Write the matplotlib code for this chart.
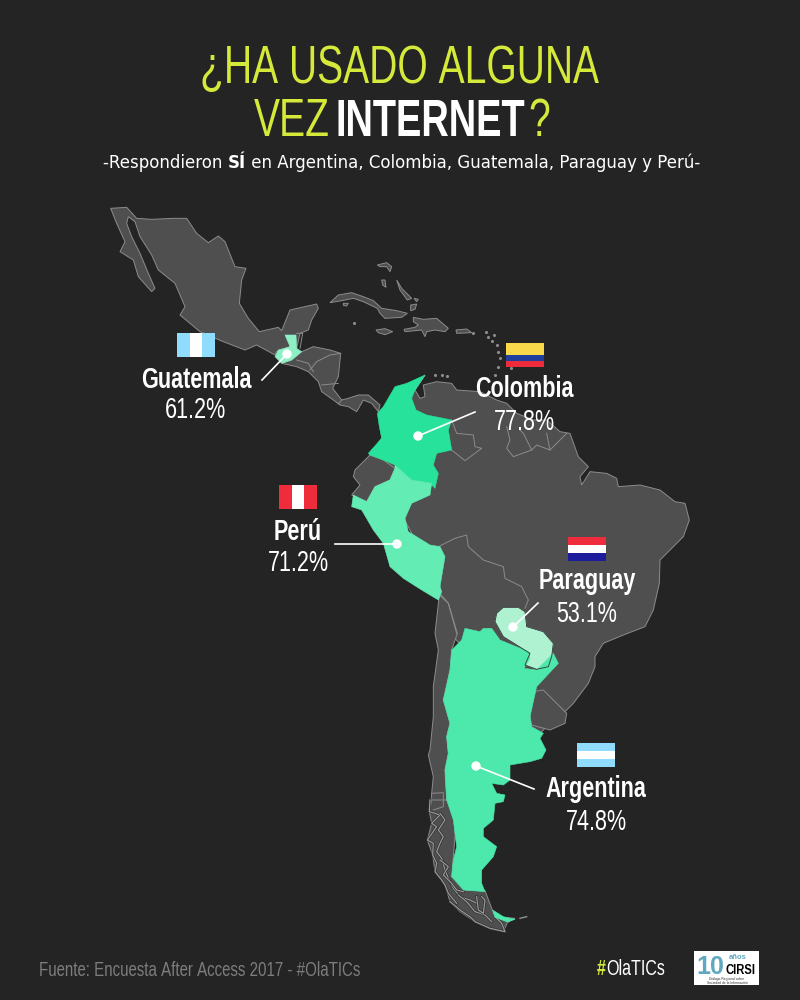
import matplotlib
matplotlib.use("Agg")
import matplotlib.pyplot as plt
from matplotlib import font_manager
from matplotlib.patches import Polygon, Circle, Rectangle

BG = "#242424"
LAND = "#4f4f4f"
EDGE = "#8c8c8c"
LIME = "#d5e93a"
WIDE = ["DejaVu Sans"]

# values
countries = ["Guatemala", "Colombia", "Perú", "Paraguay", "Argentina"]
percent = [61.2, 77.8, 71.2, 53.1, 74.8]
fills = ["#8ef0c5", "#27e29b", "#63edb5", "#aef2d1", "#4de8ab"]

# map outlines in crops: (left, top, points at 3x)
mexico = (100, 200, [(32,25),(80,22),(110,55),(155,58),(220,55),(260,55),(290,100),(325,128),(355,108),(375,125),(395,175),(405,200),(438,205),(425,240),(418,310),(445,355),(478,395),(535,382),(545,392),(570,330),(650,312),(655,325),(635,360),(625,390),(600,400),(590,445),(570,440),(530,455),(525,465),(470,435),(435,450),(370,425),(300,395),(240,345),(255,320),(225,250),(175,210),(155,165),(120,110),(105,65),(85,50),(80,70),(95,110),(120,160),(145,220),(165,265),(155,275),(115,230),(100,180),(60,155),(75,125),(50,70)])
guatemala = (100, 200, [(555,405),(588,405),(590,445),(605,455),(575,480),(545,490),(525,470),(535,450),(570,440)])
central = (100, 200, [(575,480),(605,455),(640,440),(690,450),(722,460),(715,530),(698,565),(725,600),(745,595),(775,585),(805,585),(840,615),(835,635),(815,610),(790,600),(770,635),(745,620),(720,615),(700,600),(665,575),(655,545),(625,515),(590,500),(545,490)])
cuba = (320, 280, [(30,68),(55,45),(95,38),(130,50),(160,62),(185,85),(230,92),(262,100),(245,112),(195,115),(180,100),(172,85),(130,65),(100,55),(65,62)])
isla_juventud = (320, 280, [(70,70),(85,70),(80,78),(70,76)])
jamaica = (320, 280, [(168,150),(195,146),(218,155),(195,164),(175,158)])
hispaniola = (320, 280, [(252,148),(285,142),(295,135),(280,125),(280,112),(310,118),(350,115),(385,145),(375,155),(345,150),(320,155),(315,170),(305,150),(255,155)])
puerto_rico = (320, 280, [(408,150),(440,147),(455,158),(410,160)])
bahamas1 = (320, 280, [(185,0),(195,0),(198,22),(188,15)])
bahamas2 = (320, 280, [(230,0),(245,25),(265,45),(275,55),(262,60),(240,30)])
bahamas3 = (320, 280, [(282,55),(295,58),(290,65)])
bahamas4 = (320, 280, [(272,75),(290,72),(285,88),(272,92)])
andros = (100, 200, [(832,195),(860,188),(875,200),(870,215),(860,200),(840,200)])
islets = (320, 280, [(102,128),(460,160),(497,155),(503,170),(522,165),(515,183),(530,195),(535,215),(540,235),(535,260),(572,265),(525,285),(345,285),(365,285),(380,288)])

north_sa = (340, 370, [(255,15),(225,60),(240,85),(255,80),(250,45),(290,35),(335,40),(350,60),(420,65),(470,90),(500,100),(530,130),(580,150),(620,150),(660,185),(690,190),(715,260),(745,290),(720,320),(725,345),(750,305),(800,310),(830,325),(835,350),(900,345),(960,360),(1005,395),(1035,400),(1048,450),(1030,500),(985,545),(960,570),(958,640),(940,720),(915,770),(850,795),(790,820),(765,860),(765,890),(745,940),(700,1000),(660,1040),(630,1060),(600,1090),(570,1100),(500,1060),(430,900),(340,800),(300,670),(300,650),(90,255)])
colombia = (340, 370, [(255,15),(225,60),(215,85),(228,120),(260,135),(335,150),(325,180),(335,240),(290,250),(280,285),(295,310),(285,355),(270,340),(215,330),(165,285),(130,270),(90,255),(85,250),(125,205),(118,170),(112,130),(130,110),(165,50),(200,40)])
ecuador = (340, 370, [(90,255),(45,300),(40,320),(60,345),(35,375),(80,395),(105,350),(150,330),(165,295),(130,270)])
peru = (340, 370, [(165,285),(215,330),(275,340),(270,375),(215,400),(195,445),(205,485),(270,525),(300,530),(315,560),(300,650),(305,665),(295,690),(245,660),(190,625),(150,590),(130,520),(100,480),(65,420),(35,410),(40,375),(80,395),(105,350),(150,330),(165,295)])
paraguay = (340, 370, [(465,755),(470,730),(490,712),(535,712),(555,725),(560,770),(610,785),(640,820),(635,860),(625,890),(590,898),(555,885),(570,850),(530,825),(490,800)])
chile = (400, 620, [(118,-75),(145,-50),(172,40),(155,90),(150,150),(130,240),(150,310),(140,350),(145,400),(135,450),(140,540),(165,600),(100,600),(90,580),(95,520),(100,470),(85,405),(90,390),(100,290),(100,200),(115,90),(105,40)])
chile_south = (420, 800, [(35,0),(90,0),(105,60),(105,110),(95,230),(125,235),(135,270),(195,272),(215,325),(225,350),(285,355),(262,368),(250,395),(210,385),(165,365),(120,335),(90,305),(75,255),(45,215),(38,165),(22,120),(35,70),(28,35)])
argentina = (400, 620, [(195,25),(240,35),(250,25),(275,25),(300,60),(385,95),(390,115),(372,145),(410,150),(460,100),(475,130),(410,200),(390,290),(395,320),(430,340),(420,355),(438,390),(425,415),(390,425),(330,435),(330,480),(310,495),(275,490),(290,520),(315,525),(310,545),(285,550),(280,600),(250,625),(250,650),(290,680),(280,710),(245,750),(245,790),(255,815),(190,810),(155,770),(160,720),(170,680),(160,600),(140,540),(135,450),(145,400),(140,350),(150,310),(130,240),(150,150),(155,90),(185,60)])
fuego = (420, 800, [(218,330),(250,350),(285,358),(262,366),(225,352)])
uruguay = (400, 620, [(400,215),(430,210),(470,250),(500,280),(495,310),(450,330),(395,315),(390,290)])

# inner borders
borders = [
    (340, 370, [(335,150),(350,190),(400,195),(405,230),(425,235),(375,272),(335,240)]),
    (340, 370, [(500,170),(510,210),(500,235),(520,260),(575,240),(550,190),(540,180)]),
    (340, 370, [(575,240),(590,225),(630,240),(620,190)]),
    (340, 370, [(630,240),(680,190)]),
    (340, 370, [(295,530),(345,505),(380,495),(385,530),(430,570),(490,590),(495,625),(545,650),(565,690),(555,715)]),
    (340, 370, [(300,670),(325,700),(350,790)]),
    (100, 200, [(630,510),(650,485),(690,465),(722,460)]),
    (100, 200, [(665,555),(715,550)]),
    (100, 200, [(590,480),(625,490),(640,515)]),
    (100, 200, [(725,600),(715,612)]),
    (100, 200, [(590,400),(608,400),(600,445)]),
    (400, 620, [(95,520),(130,518),(130,560),(100,570)]),
]
# broken south coast of Chile
fjords = [
    (420, 800, [(30,0),(28,35),(45,40),(60,45),(35,70),(50,80),(22,120),(40,130),(38,165),(50,190),(45,215),(65,240),(75,255),(85,280),(110,310)]),
    (420, 800, [(60,40),(75,60),(55,90),(70,110),(60,130),(50,155),(65,175),(75,210),(85,235),(100,265),(120,290),(150,300),(170,310)]),
    (420, 800, [(90,305),(120,330),(150,350),(165,365),(210,385),(255,395),(245,370),(225,350)]),
    (420, 800, [(115,285),(140,305),(165,335),(195,345),(215,365)]),
    (420, 800, [(170,290),(175,330),(190,340),(195,300),(185,290)]),
    (420, 800, [(60,180),(85,200),(70,225),(95,250),(110,270),(130,275)]),
    (420, 800, [(300,355),(320,350)]),
]

# flags: stripes top to bottom or left to right
flag_colors = {
    "Guatemala": ["#8fdcff", "#ffffff", "#8fdcff"],
    "Colombia": ["#f9d84a", "#f9d84a", "#1f3f9e", "#ee2c3c"],
    "Perú": ["#ee2c3c", "#ffffff", "#ee2c3c"],
    "Paraguay": ["#ee2c3c", "#ffffff", "#1c1c9c"],
    "Argentina": ["#8fdcff", "#ffffff", "#8fdcff"],
}


def narrow_font():
    # no condensed family is installed, so squeeze Liberation Sans sideways
    try:
        from fontTools.ttLib import TTFont
    except ImportError:
        return ["Liberation Sans"]
    squeeze = 0.74
    for weight, out in [("normal", "narrow.ttf"), ("bold", "narrow-bold.ttf")]:
        path = font_manager.findfont(font_manager.FontProperties(family="Liberation Sans", weight=weight))
        f = TTFont(path)
        glyf = f["glyf"]
        for name in f.getGlyphOrder():
            g = glyf[name]
            adv, lsb = f["hmtx"].metrics[name]
            f["hmtx"].metrics[name] = (int(adv * squeeze), int(lsb * squeeze))
            if g.isComposite():
                for c in g.components:
                    c.x = int(c.x * squeeze)
            elif g.numberOfContours > 0:
                g.coordinates.scale((squeeze, 1))
                g.coordinates.toInt()
                g.removeHinting()
        for tag in ["fpgm", "prep", "cvt ", "kern", "GPOS", "GSUB", "hdmx", "VDMX", "LTSH"]:
            if tag in f:
                del f[tag]
        for rec in f["name"].names:
            if rec.nameID in (1, 16):
                rec.string = "Sketch Narrow"
            elif rec.nameID == 4:
                rec.string = "Sketch Narrow " + weight
            elif rec.nameID == 6:
                rec.string = "SketchNarrow-" + weight
        f.save(out)
        font_manager.fontManager.addfont(out)
    return ["Sketch Narrow", "Liberation Sans"]


NARROW = narrow_font()


def points(shape):
    left, top, pts = shape
    return [(left + x / 3, top + y / 3) for x, y in pts]


def land(ax, shape, color=LAND, edge=EDGE, lw=0.7, z=2):
    ax.add_patch(Polygon(points(shape), closed=True, facecolor=color, edgecolor=edge, linewidth=lw, zorder=z))


def flag(ax, name, x, y, vertical=False):
    colors = flag_colors[name]
    n = len(colors)
    w, h = 38, 24
    for i, c in enumerate(colors):
        if vertical:
            ax.add_patch(Rectangle((x + i * w / n, y), w / n, h, color=c, lw=0, zorder=5))
        else:
            ax.add_patch(Rectangle((x, y + i * h / n), w, h / n, color=c, lw=0, zorder=5))


def label(ax, name, value, x, y1, y2):
    ax.text(x, y1, name, color="white", fontsize=21, fontweight="bold", family=NARROW, ha="center", va="baseline", zorder=6)
    ax.text(x, y2, f"{value}%", color="white", fontsize=21, family=NARROW, ha="center", va="baseline", zorder=6)


def leader(ax, x1, y1, x2, y2):
    ax.plot([x1, x2], [y1, y2], color="white", lw=1.2, zorder=6)
    ax.add_patch(Circle((x1, y1), 4, color="white", zorder=7))


def run(ax, x, y, parts, fontsize, family):
    # texts one after the other on the same line
    r = ax.figure.canvas.get_renderer()
    for s, c, w in parts:
        t = ax.text(x, y, s, color=c, fontsize=fontsize, fontweight=w, family=family, ha="left", va="baseline", zorder=6)
        x = x + t.get_window_extent(r).width
    return x


fig = plt.figure(figsize=(8, 10), dpi=100, facecolor=BG)
ax = fig.add_axes([0, 0, 1, 1])
ax.set_xlim(0, 800)
ax.set_ylim(1000, 0)
ax.axis("off")

ax.text(400, 83, "¿HA USADO ALGUNA", color=LIME, fontsize=38, family=NARROW, ha="center", va="baseline")
ax.text(254, 136, "VEZ", color=LIME, fontsize=38, family=NARROW, ha="left", va="baseline")
ax.text(336, 136, "INTERNET", color="white", fontsize=37, fontweight="bold", family=NARROW, ha="left", va="baseline")
ax.text(528, 136, "?", color=LIME, fontsize=38, family=NARROW, ha="left", va="baseline")
run(ax, 103, 168, [("-Respondieron ", "white", "normal"), ("SÍ", "white", "bold"),
                   (" en Argentina, Colombia, Guatemala, Paraguay y Perú-", "white", "normal")], 12, WIDE)

for shape in [north_sa, mexico, central, cuba, jamaica, hispaniola, puerto_rico, isla_juventud, andros,
              bahamas1, bahamas2, bahamas3, bahamas4, chile, chile_south, ecuador, uruguay]:
    land(ax, shape)
xy = points(islets)
ax.scatter([p[0] for p in xy], [p[1] for p in xy], s=5, color=EDGE, lw=0, zorder=2)
for b in borders:
    xy = points(b)
    ax.plot([p[0] for p in xy], [p[1] for p in xy], color=EDGE, lw=0.7, zorder=3)
for b in fjords:
    xy = points(b)
    ax.plot([p[0] for p in xy], [p[1] for p in xy], color="#2c2c2c", lw=1.8, zorder=3)
    ax.plot([p[0] for p in xy], [p[1] for p in xy], color="#999999", lw=0.9, zorder=3)

shapes = [guatemala, colombia, peru, paraguay, argentina]
for shape, c in zip(shapes, fills):
    land(ax, shape, color=c, edge=c, lw=0.4, z=4)
land(ax, fuego, color=fills[4], edge=fills[4], lw=0.4, z=4)
# dark line round Paraguay
ax.add_patch(Polygon(points(paraguay), closed=True, fill=False, edgecolor="#333333", linewidth=0.6, zorder=4))

flag(ax, "Guatemala", 177, 333, vertical=True)
flag(ax, "Colombia", 506, 343)
flag(ax, "Perú", 279, 485, vertical=True)
flag(ax, "Paraguay", 568, 537)
flag(ax, "Argentina", 577, 743)

label(ax, countries[0], percent[0], 196, 388, 418)
label(ax, countries[1], percent[1], 524, 397, 430)
label(ax, countries[2], percent[2], 298, 540, 571)
label(ax, countries[3], percent[3], 587, 589, 622)
label(ax, countries[4], percent[4], 596, 797, 830)

leader(ax, 287, 354, 262, 380)
leader(ax, 418, 436, 475, 412)
leader(ax, 397, 544, 335, 544)
leader(ax, 513, 627, 538, 603)
leader(ax, 476, 766, 534, 789)

ax.text(39, 976, "Fuente: Encuesta After Access 2017 - #OlaTICs", color="#7d7d7d", fontsize=14.7, family=NARROW, ha="left", va="baseline")
run(ax, 597, 975, [("#", LIME, "bold"), ("OlaTICs", "white", "normal")], 15.7, NARROW)

# logo
ax.add_patch(Rectangle((694, 951), 65, 34, color="white", lw=0, zorder=5))
ax.text(696, 974, "10", color="#5fa8bf", fontsize=18, fontweight="bold", family=["Liberation Sans"], ha="left", va="baseline", zorder=6)
ax.text(738, 959, "años", color="#5fa8bf", fontsize=5.5, fontweight="bold", family=["Liberation Sans"], ha="center", va="baseline", zorder=6)
ax.text(740, 974, "CIRSI", color="black", fontsize=11, fontweight="bold", family=NARROW, ha="center", va="baseline", zorder=6)
ax.text(727, 981, "Diálogo Regional sobre\nSociedad de la Información", color="#333333", fontsize=2.4, family=["Liberation Sans"], ha="center", va="center", zorder=6)

fig.savefig("out.png", dpi=100, facecolor=BG)
